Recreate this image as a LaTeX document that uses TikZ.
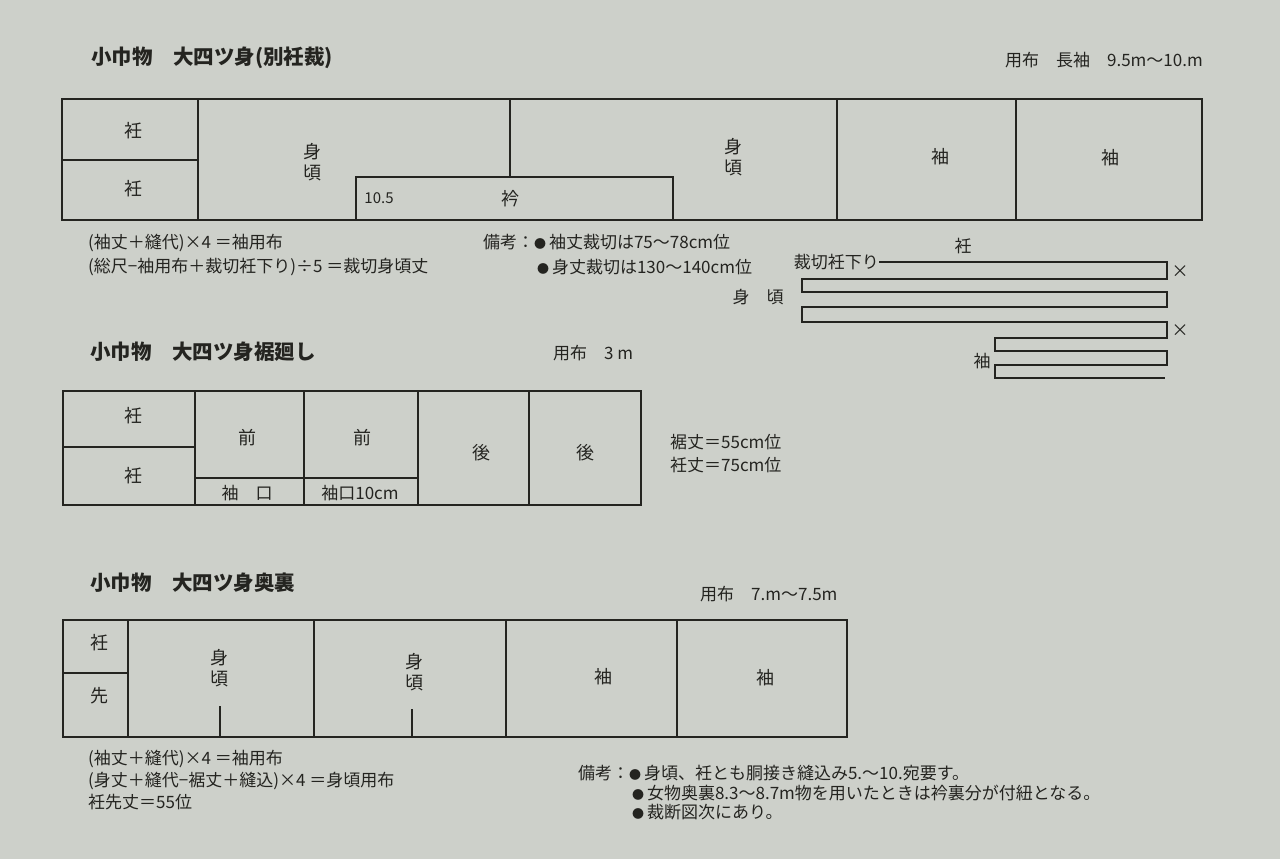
\documentclass[tikz,border=0pt]{standalone}
\usepackage{fontspec}
\setmainfont{Noto Sans CJK JP}
\definecolor{paper}{RGB}{205,208,202}
\definecolor{ink}{RGB}{36,36,32}
\newcommand*{\topA }{99}
\newcommand*{\botA }{220}
\newcommand*{\topB }{391}
\newcommand*{\botB }{505}
\newcommand*{\topC }{620}
\newcommand*{\botC }{737}
\newcommand*{\bul  }{{\fontsize{12}{12}\selectfont ●}\,}
\tikzset{
    piece/.style={draw=ink, line width=1.3pt},
    lbl/.style={text=ink, inner sep=0pt, font=\fontsize{18}{21}\selectfont, align=center},
    note/.style={text=ink, inner sep=0pt, anchor=west, font=\fontsize{17}{19}\selectfont},
    heading/.style={text=ink, inner sep=0pt, anchor=west, font=\fontsize{20.5}{22}\selectfont\bfseries},
}

\begin{document}
\begin{tikzpicture}[x=1pt, y=-1pt]
    \useasboundingbox (0,0) rectangle (1280,859);
    \fill [paper] (0,0) rectangle (1280,859);
    % --- 別衽裁
        \node [heading] (titleA) at (91,58) {小巾物　大四ツ身(別衽裁)};
        \node [note, anchor=east] (yofuA) at (1203,60) {用布　長袖　9.5m〜10.m};
        \draw [piece] (62,\topA) rectangle (1202,\botA);
        \draw [piece] (198,\topA) -- (198,\botA);
        \draw [piece] (62,160) -- (198,160);
        \draw [piece] (510,\topA) -- (510,177);
        \draw [piece] (356,\botA) |- (673,177) -- (673,\botA);
        \draw [piece] (837,\topA) -- (837,\botA);
        \draw [piece] (1016,\topA) -- (1016,\botA);
        \node [lbl] (okumiA) at (133,131) {衽};
        \node [lbl] (okumiB) at (133,189) {衽};
        \node [lbl] (migoroA) at (312,162) {身\\頃};
        \node [lbl] (migoroB) at (733,157) {身\\頃};
        \node [lbl, font=\fontsize{15}{17}\selectfont] (eriW) at (379,198) {10.5};
        \node [lbl] (eri) at (510,199) {衿};
        \node [lbl] (sodeA) at (940,157) {袖};
        \node [lbl] (sodeB) at (1110,158) {袖};
        \node [note] (calcA) at (88,243) {(袖丈＋縫代)×4 ＝袖用布};
        \node [note] (calcB) at (88,267) {(総尺−袖用布＋裁切衽下り)÷5 ＝裁切身頃丈};
        \node [note] (bikoA) at (483,242) {備考：\bul 袖丈裁切は75〜78cm位};
        \node [note] (bikoB) at (537,267) {\bul 身丈裁切は130〜140cm位};
    % cutting plan
        \node [lbl, font=\fontsize{17}{19}\selectfont] (okumiC) at (963,246) {衽};
        \node [note, anchor=east] (sagari) at (879,262) {裁切衽下り};
        \draw [piece] (sagari.east) -- (1167,262) -- (1167,279) -- (802,279) -- (802,292) -- (1167,292) -- (1167,307) -- (802,307) -- (802,322)
            -- (1167,322) -- (1167,338) -- (995,338) -- (995,351) -- (1167,351) -- (1167,365) -- (995,365) -- (995,378) -- (1165,378);
        \node [note, anchor=center] (batsuA) at (1180,272) {×};
        \node [note, anchor=center] (batsuB) at (1180,331) {×};
        \node [note, anchor=center] (migoroC) at (758,297) {身　頃};
        \node [note, anchor=center] (sodeC) at (982,361) {袖};
    % --- 裾廻し
        \node [heading] (titleB) at (90,352) {小巾物　大四ツ身裾廻し};
        \node [note] (yofuB) at (553,353) {用布　3 m};
        \draw [piece] (63,\topB) rectangle (641,\botB);
        \foreach \xx in {195,304,418,529}
            \draw [piece] (\xx,\topB) -- (\xx,\botB);
        \draw [piece] (63,447) -- (195,447);
        \draw [piece] (195,478) -- (418,478);
        \node [lbl] (okumiD) at (133,416) {衽};
        \node [lbl] (okumiE) at (133,476) {衽};
        \node [lbl] (maeA) at (247,438) {前};
        \node [lbl] (maeB) at (362,438) {前};
        \node [lbl] (ushiroA) at (481,453) {後};
        \node [lbl] (ushiroB) at (585,453) {後};
        \node [lbl, font=\fontsize{17}{19}\selectfont] (sodeguchiA) at (247,493) {袖　口};
        \node [lbl, font=\fontsize{17}{19}\selectfont] (sodeguchiB) at (360,493) {袖口10cm};
        \node [note] (susoJo) at (670,442) {裾丈＝55cm位};
        \node [note] (okumiJo) at (670,465) {衽丈＝75cm位};
    % --- 奥裏
        \node [heading] (titleC) at (90,583) {小巾物　大四ツ身奥裏};
        \node [note] (yofuC) at (700,594) {用布　7.m〜7.5m};
        \draw [piece] (63,\topC) rectangle (847,\botC);
        \foreach \xx in {128,314,506,677}
            \draw [piece] (\xx,\topC) -- (\xx,\botC);
        \draw [piece] (63,673) -- (128,673);
        \draw [piece] (220,706) -- (220,\botC);
        \draw [piece] (412,709) -- (412,\botC);
        \node [lbl] (okumiF) at (99,643) {衽};
        \node [lbl] (saki) at (99,696) {先};
        \node [lbl] (migoroD) at (219,668) {身\\頃};
        \node [lbl] (migoroE) at (414,672) {身\\頃};
        \node [lbl] (sodeD) at (603,677) {袖};
        \node [lbl] (sodeE) at (765,678) {袖};
        \node [note] (calcC) at (88,759) {(袖丈＋縫代)×4 ＝袖用布};
        \node [note] (calcD) at (88,781) {(身丈＋縫代−裾丈＋縫込)×4 ＝身頃用布};
        \node [note] (calcE) at (88,802) {衽先丈＝55位};
        \node [note] (bikoC) at (578,773) {備考：\bul 身頃、衽とも胴接き縫込み5.〜10.宛要す。};
        \node [note] (bikoD) at (632,793) {\bul 女物奥裏8.3〜8.7m物を用いたときは衿裏分が付紐となる。};
        \node [note] (bikoE) at (632,812) {\bul 裁断図次にあり。};
\end{tikzpicture}
\end{document}
